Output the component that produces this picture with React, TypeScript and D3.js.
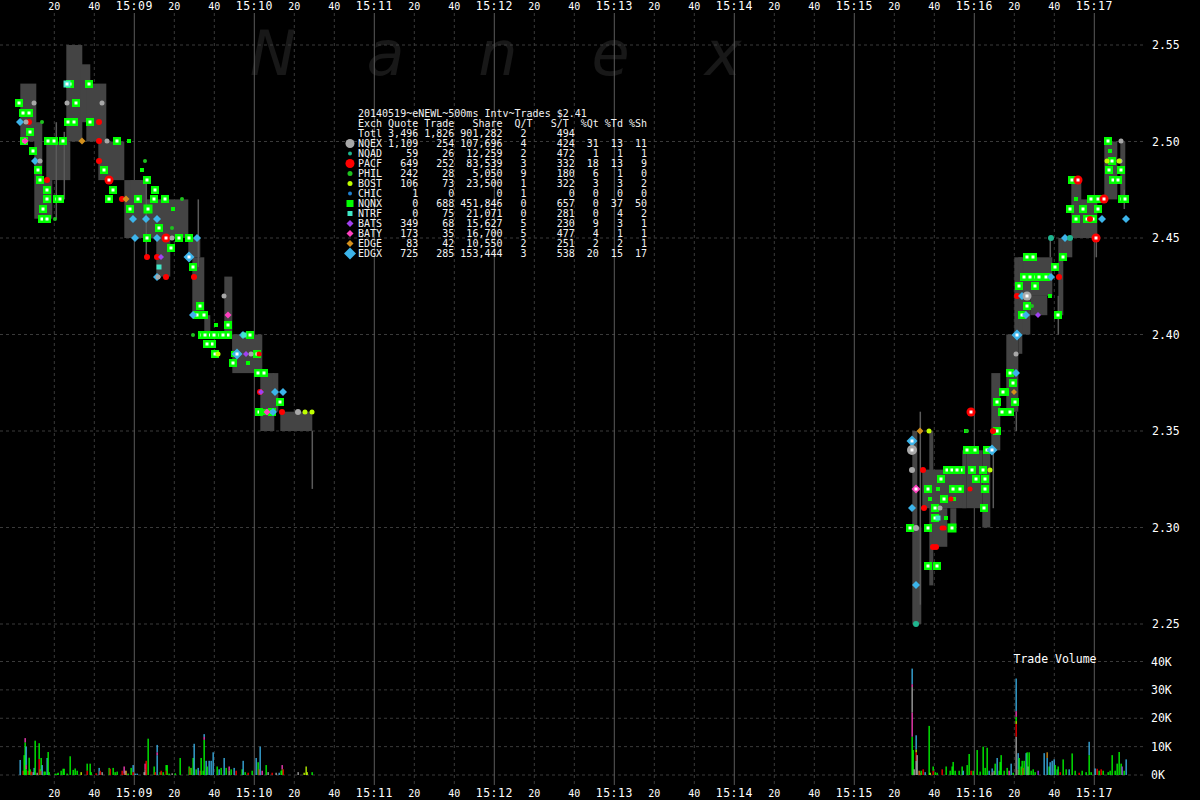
import React from 'react';
import * as d3 from 'd3';

// times are seconds after 15:08:00, prices in dollars
const BASE = new Date(2014, 4, 19, 15, 8, 0);

// NBBO spread columns: [tStart, tEnd, low, high]
const spreads: [number, number, number, number][] = [
  [3, 11, 2.5, 2.53], [10, 14, 2.46, 2.51], [13, 19, 2.46, 2.48], [16, 28, 2.48, 2.5],
  [26, 34, 2.5, 2.55], [33, 38, 2.51, 2.54], [36, 46, 2.5, 2.53], [42, 55, 2.48, 2.5],
  [55, 64, 2.45, 2.48], [58, 66, 2.45, 2.48], [64, 87, 2.45, 2.47], [71, 78, 2.43, 2.45],
  [87, 93, 2.44, 2.45], [89, 95, 2.41, 2.44], [95, 98, 2.4, 2.41], [105, 109, 2.4, 2.43],
  [109, 113, 2.39, 2.4], [109, 124, 2.38, 2.4], [123, 130, 2.35, 2.38], [129, 132, 2.36, 2.38],
  [133, 149, 2.35, 2.36],
  [449, 451.5, 2.25, 2.35], [451, 453.5, 2.25, 2.3], [457.5, 459.5, 2.27, 2.35], [454, 476, 2.31, 2.33],
  [459, 466.5, 2.29, 2.31], [468, 471, 2.3, 2.31], [474, 476, 2.31, 2.34], [476, 484, 2.31, 2.34],
  [484, 488, 2.3, 2.34], [488.5, 493, 2.34, 2.38], [496, 502, 2.36, 2.4], [500, 508, 2.4, 2.44],
  [502, 504, 2.39, 2.44], [504.5, 519, 2.42, 2.44], [508, 516.5, 2.41, 2.42], [522, 524.5, 2.41, 2.45],
  [524, 529, 2.44, 2.45], [528.5, 533.5, 2.45, 2.48], [533, 541.5, 2.45, 2.47], [545, 551.5, 2.47, 2.5],
  [553, 555.5, 2.47, 2.5],
];

// thin quote wicks: [t, low, high]
const wicks: [number, number, number][] = [
  [21, 2.46, 2.51], [25, 2.47, 2.505], [66, 2.44, 2.48], [92, 2.435, 2.47], [149, 2.32, 2.35],
  [453, 2.26, 2.36], [489.5, 2.31, 2.34], [501, 2.35, 2.36], [522, 2.4, 2.42], [518, 2.44, 2.45],
  [541, 2.44, 2.45], [555, 2.465, 2.475],
];

// trades: [t, price, exchange, shares]
const trades: [number, number, string, number][] = [
  // NQNX
  [2.4, 2.52, 'NQNX', 800], [7.4, 2.515, 'NQNX', 800], [7.9, 2.505, 'NQNX', 800], [4.9, 2.5, 'NQNX', 800],
  [9.4, 2.495, 'NQNX', 800], [11.9, 2.485, 'NQNX', 800], [12.9, 2.48, 'NQNX', 800], [16.4, 2.475, 'NQNX', 800],
  [16.4, 2.47, 'NQNX', 800], [21.4, 2.47, 'NQNX', 800], [22.9, 2.47, 'NQNX', 800], [14.4, 2.465, 'NQNX', 800],
  [13.9, 2.46, 'NQNX', 800], [16.4, 2.46, 'NQNX', 800], [16.9, 2.5, 'NQNX', 800], [24.4, 2.5, 'NQNX', 800],
  [29.9, 2.51, 'NQNX', 800], [37.9, 2.51, 'NQNX', 800], [30.9, 2.52, 'NQNX', 800], [51.4, 2.5, 'NQNX', 800],
  [49.4, 2.475, 'NQNX', 800], [47.4, 2.47, 'NQNX', 800], [57.9, 2.465, 'NQNX', 800], [66.4, 2.48, 'NQNX', 800],
  [70.4, 2.475, 'NQNX', 800], [69.9, 2.47, 'NQNX', 800], [75.4, 2.47, 'NQNX', 800], [66.9, 2.465, 'NQNX', 1000],
  [72.4, 2.455, 'NQNX', 800], [66.4, 2.45, 'NQNX', 800], [82.4, 2.45, 'NQNX', 800], [87.4, 2.45, 'NQNX', 800],
  [89.4, 2.435, 'NQNX', 800], [92.9, 2.415, 'NQNX', 800], [94.9, 2.41, 'NQNX', 800], [91.4, 2.41, 'NQNX', 800],
  [106.9, 2.405, 'NQNX', 800], [93.9, 2.4, 'NQNX', 800], [97.4, 2.4, 'NQNX', 800], [102.9, 2.4, 'NQNX', 800],
  [106.9, 2.4, 'NQNX', 800], [98.9, 2.395, 'NQNX', 800], [117.9, 2.4, 'NQNX', 800], [100.4, 2.39, 'NQNX', 800],
  [121.4, 2.39, 'NQNX', 800], [121.9, 2.38, 'NQNX', 800], [124.9, 2.38, 'NQNX', 800], [132.9, 2.365, 'NQNX', 800],
  [122.4, 2.36, 'NQNX', 800], [37.4, 2.53, 'NQNX', 800], [27.9, 2.53, 'NQNX', 800], [4.4, 2.515, 'NQNX', 800],
  [95.4, 2.4, 'NQNX', 800], [99.9, 2.4, 'NQNX', 800], [104.4, 2.4, 'NQNX', 800], [110, 2.39, 'NQNX', 300],
  [57.4, 2.5, 'NQNX', 100], [63.9, 2.485, 'NQNX', 100], [79.4, 2.465, 'NQNX', 100], [101, 2.405, 'NQNX', 100],
  [117, 2.385, 'NQNX', 100], [124, 2.36, 'NQNX', 300], [126, 2.36, 'NQNX', 300],
  [19.9, 2.5, 'NQNX', 800], [26.9, 2.51, 'NQNX', 800], [44.9, 2.485, 'NQNX', 800], [61.9, 2.47, 'NQNX', 800],
  [78.4, 2.445, 'NQNX', 800], [96.4, 2.395, 'NQNX', 800], [109.4, 2.385, 'NQNX', 800], [128.9, 2.36, 'NQNX', 800],
  [456.9, 2.32, 'NQNX', 800], [460.4, 2.31, 'NQNX', 800], [460.4, 2.305, 'NQNX', 800], [456.9, 2.3, 'NQNX', 800],
  [456.9, 2.28, 'NQNX', 800], [461.4, 2.28, 'NQNX', 800], [468.9, 2.3, 'NQNX', 1000], [464.9, 2.315, 'NQNX', 800],
  [466.4, 2.33, 'NQNX', 800], [468.9, 2.33, 'NQNX', 800], [473.4, 2.33, 'NQNX', 800], [469.4, 2.32, 'NQNX', 800],
  [472.9, 2.32, 'NQNX', 800], [476.4, 2.34, 'NQNX', 800], [480.4, 2.34, 'NQNX', 800], [486.4, 2.34, 'NQNX', 800],
  [484.4, 2.33, 'NQNX', 800], [480.9, 2.325, 'NQNX', 800], [485.4, 2.325, 'NQNX', 800], [485.4, 2.32, 'NQNX', 800],
  [484.9, 2.31, 'NQNX', 800], [491.4, 2.35, 'NQNX', 800], [491.4, 2.365, 'NQNX', 800], [497.9, 2.36, 'NQNX', 800],
  [500.4, 2.365, 'NQNX', 800], [495.4, 2.37, 'NQNX', 800], [499.4, 2.375, 'NQNX', 800], [447.9, 2.3, 'NQNX', 800],
  [546.9, 2.5, 'NQNX', 800], [548.9, 2.49, 'NQNX', 800], [547.4, 2.485, 'NQNX', 800], [553.4, 2.485, 'NQNX', 800],
  [549.4, 2.48, 'NQNX', 800], [553.9, 2.47, 'NQNX', 800], [555.4, 2.47, 'NQNX', 800], [528.9, 2.48, 'NQNX', 800],
  [527.9, 2.465, 'NQNX', 800], [534.4, 2.465, 'NQNX', 800], [541.9, 2.465, 'NQNX', 800], [541.9, 2.47, 'NQNX', 800],
  [536.4, 2.46, 'NQNX', 800], [539.4, 2.46, 'NQNX', 800], [524.4, 2.44, 'NQNX', 800], [520.4, 2.435, 'NQNX', 800],
  [509.4, 2.44, 'NQNX', 800], [506.4, 2.44, 'NQNX', 800], [502.4, 2.425, 'NQNX', 800], [510.4, 2.425, 'NQNX', 800],
  [506.4, 2.415, 'NQNX', 800], [503.9, 2.41, 'NQNX', 800], [521.9, 2.41, 'NQNX', 800], [513.9, 2.43, 'NQNX', 800],
  [497.9, 2.38, 'NQNX', 800], [494.4, 2.37, 'NQNX', 800], [505, 2.43, 'NQNX', 800], [508, 2.43, 'NQNX', 800],
  [511, 2.43, 'NQNX', 800], [516, 2.43, 'NQNX', 800], [462, 2.32, 'NQNX', 100], [466, 2.305, 'NQNX', 100],
  [470, 2.315, 'NQNX', 100], [458, 2.315, 'NQNX', 100], [476, 2.35, 'NQNX', 100], [518, 2.42, 'NQNX', 100],
  [531, 2.47, 'NQNX', 100], [548, 2.495, 'NQNX', 100],
  [463.4, 2.325, 'NQNX', 800], [471.4, 2.33, 'NQNX', 800], [478.9, 2.33, 'NQNX', 800], [493.9, 2.36, 'NQNX', 800],
  [512.4, 2.43, 'NQNX', 800], [530.9, 2.46, 'NQNX', 800], [538.4, 2.47, 'NQNX', 800], [551.9, 2.48, 'NQNX', 800],
  // PACF
  [7.4, 2.51, 'PACF', 300], [16.4, 2.48, 'PACF', 300], [42.4, 2.51, 'PACF', 300], [42.4, 2.5, 'PACF', 300],
  [42.4, 2.49, 'PACF', 300], [47.4, 2.48, 'PACF', 800], [53.9, 2.47, 'PACF', 300], [75.9, 2.45, 'PACF', 800],
  [66.4, 2.44, 'PACF', 300], [71.4, 2.44, 'PACF', 300], [75.9, 2.43, 'PACF', 300], [89.9, 2.43, 'PACF', 300],
  [122.9, 2.37, 'PACF', 300], [133.9, 2.36, 'PACF', 300], [122.4, 2.39, 'PACF', 100],
  [454.4, 2.33, 'PACF', 300], [454.9, 2.31, 'PACF', 300], [459.4, 2.29, 'PACF', 300], [478.4, 2.36, 'PACF', 800],
  [489.4, 2.35, 'PACF', 300], [531.9, 2.48, 'PACF', 800], [544.9, 2.47, 'PACF', 800], [540.9, 2.45, 'PACF', 800],
  [522.4, 2.43, 'PACF', 300], [501.4, 2.42, 'PACF', 300], [537.9, 2.46, 'PACF', 300], [463.9, 2.3, 'PACF', 100],
  [468.4, 2.315, 'PACF', 100], [477.9, 2.32, 'PACF', 100], [461, 2.29, 'PACF', 300], [465, 2.3, 'PACF', 100],
  // EDGX
  [2.9, 2.51, 'EDGX', 300], [10.4, 2.49, 'EDGX', 300], [59.4, 2.46, 'EDGX', 300], [65.9, 2.46, 'EDGX', 300],
  [71.4, 2.46, 'EDGX', 300], [71.4, 2.45, 'EDGX', 300], [60.4, 2.45, 'EDGX', 300], [91.4, 2.45, 'EDGX', 300],
  [87.4, 2.44, 'EDGX', 800], [71.4, 2.43, 'EDGX', 300], [89.4, 2.41, 'EDGX', 300], [111.4, 2.39, 'EDGX', 800],
  [114.4, 2.4, 'EDGX', 300], [130.4, 2.37, 'EDGX', 300], [134.4, 2.37, 'EDGX', 300], [129.4, 2.36, 'EDGX', 300],
  [448.9, 2.345, 'EDGX', 800], [448.9, 2.31, 'EDGX', 300], [450.9, 2.27, 'EDGX', 300], [543.9, 2.46, 'EDGX', 300],
  [555.9, 2.46, 'EDGX', 300], [518.4, 2.43, 'EDGX', 300], [503.9, 2.42, 'EDGX', 300], [505.9, 2.41, 'EDGX', 300],
  [501.4, 2.4, 'EDGX', 800], [525.4, 2.45, 'EDGX', 300], [500.9, 2.38, 'EDGX', 300], [488.9, 2.34, 'EDGX', 800],
  // others
  [33.9, 2.5, 'EDGE', 300], [55.9, 2.47, 'EDGE', 300], [452.9, 2.35, 'EDGE', 300], [499.9, 2.37, 'EDGE', 100],
  [5.9, 2.51, 'NQEX', 100], [12.9, 2.49, 'NQEX', 100], [118.4, 2.39, 'NQEX', 100], [141.9, 2.36, 'NQEX', 300],
  [71.9, 2.43, 'NQEX', 100], [9.9, 2.52, 'NQEX', 100], [26.4, 2.52, 'NQEX', 100], [43.9, 2.52, 'NQEX', 100],
  [46.4, 2.5, 'NQEX', 100], [104.9, 2.42, 'NQEX', 100], [78.9, 2.45, 'NQEX', 100],
  [448.9, 2.34, 'NQEX', 1200], [448.9, 2.33, 'NQEX', 300], [450.9, 2.3, 'NQEX', 300], [553.4, 2.5, 'NQEX', 100],
  [552.9, 2.49, 'NQEX', 100], [500.9, 2.39, 'NQEX', 100], [506.4, 2.42, 'NQEX', 800], [463, 2.31, 'NQEX', 100],
  [101.9, 2.39, 'BOST', 300], [145.4, 2.36, 'BOST', 300], [148.9, 2.36, 'BOST', 300], [457.4, 2.35, 'BOST', 300],
  [546.4, 2.49, 'BOST', 300], [552.4, 2.49, 'BOST', 300], [487.9, 2.33, 'BOST', 300],
  [73.4, 2.44, 'BATS', 300], [115.9, 2.39, 'BATS', 300], [123.4, 2.37, 'BATS', 300], [511.9, 2.41, 'BATS', 300],
  [106.9, 2.41, 'BATY', 300], [126.4, 2.36, 'BATY', 300], [5.4, 2.5, 'BATY', 300], [450.9, 2.32, 'BATY', 800],
  [72.4, 2.435, 'NTRF', 300], [114.9, 2.4, 'NTRF', 300], [26.4, 2.53, 'NTRF', 800], [462, 2.305, 'NTRF', 300],
  [65.4, 2.49, 'PHIL', 300], [83.9, 2.47, 'PHIL', 300], [89.4, 2.4, 'PHIL', 300], [78.9, 2.455, 'PHIL', 300],
  [20.4, 2.46, 'PHIL', 300], [13.9, 2.51, 'PHIL', 300], [476.4, 2.35, 'PHIL', 300], [509, 2.415, 'PHIL', 300],
  [450.9, 2.25, 'NQAD', 300], [518.4, 2.45, 'NQAD', 300], [527.9, 2.45, 'NQAD', 300],
];

// trade volume per 500ms: [t, shares, exchange], stacked in order
const volumes: [number, number, string][] = [
  [2.9, 5300, 'EDGX'], [4.4, 1500, 'PACF'], [4.9, 7000, 'NQNX'], [5.4, 11500, 'NQNX'], [5.4, 1500, 'BATY'],
  [5.9, 2000, 'NQNX'], [5.9, 1500, 'BATY'], [5.9, 6500, 'EDGX'], [6.9, 1500, 'PACF'], [7.4, 6100, 'NQNX'],
  [7.9, 2000, 'NQNX'], [8.4, 1200, 'PACF'], [9.4, 1000, 'NQEX'], [9.9, 2500, 'EDGX'], [10.4, 12100, 'NQNX'],
  [11.4, 800, 'NQEX'], [12.4, 5600, 'PACF'], [12.4, 5600, 'NQNX'], [12.9, 2000, 'NQNX'], [13.4, 1500, 'PACF'],
  [13.4, 4500, 'NQNX'], [13.9, 3500, 'EDGX'], [14.9, 1200, 'NQNX'], [15.4, 1200, 'NQNX'], [16.4, 6000, 'EDGX'],
  [16.9, 8100, 'NQNX'], [17.4, 1000, 'NQNX'], [20.4, 500, 'NQNX'], [21.4, 500, 'NQNX'], [21.9, 800, 'NQNX'],
  [23.4, 1500, 'NQNX'], [24.4, 2200, 'NQNX'], [24.9, 2200, 'NQNX'], [26.4, 500, 'NQNX'], [27.9, 6600, 'NQNX'],
  [29.4, 1800, 'NQNX'], [30.4, 2300, 'NQNX'], [31.4, 1500, 'NQNX'], [33.4, 1000, 'BOST'], [36.4, 1500, 'PACF'],
  [36.4, 2500, 'NQNX'], [37.9, 4000, 'NQNX'], [38.4, 1000, 'NQNX'], [40.9, 600, 'PACF'], [42.4, 2500, 'EDGX'],
  [42.9, 1500, 'PACF'], [43.9, 1000, 'NQEX'], [47.4, 2500, 'NQNX'], [47.9, 2200, 'PACF'], [49.4, 2500, 'NQNX'],
  [50.4, 1000, 'NQNX'], [51.4, 1200, 'NQNX'], [53.9, 1500, 'PACF'], [54.9, 500, 'PACF'], [54.9, 2500, 'BATY'],
  [55.4, 1500, 'NQEX'], [55.9, 1500, 'EDGE'], [56.9, 500, 'NQNX'], [58.4, 2500, 'NQNX'], [59.4, 1000, 'PACF'],
  [59.4, 2500, 'EDGX'], [60.4, 500, 'EDGX'], [61.4, 500, 'EDGX'], [64.9, 1000, 'NQEX'], [65.4, 2000, 'NQEX'],
  [65.4, 2000, 'BATY'], [65.9, 5000, 'PACF'], [66.9, 12800, 'NQNX'], [69.9, 3000, 'NQNX'], [70.4, 1000, 'PACF'],
  [71.4, 7000, 'EDGX'], [71.4, 1000, 'BATY'], [71.4, 2600, 'EDGX'], [72.9, 1000, 'NQNX'], [73.4, 1500, 'PACF'],
  [74.4, 1000, 'NQNX'], [75.9, 1500, 'PACF'], [75.9, 2000, 'NQNX'], [76.4, 3500, 'NQNX'], [77.4, 500, 'NQNX'],
  [78.9, 600, 'NQEX'], [80.4, 600, 'NQNX'], [82.9, 6000, 'NQNX'], [87.4, 3000, 'NQNX'], [87.9, 2500, 'PACF'],
  [88.4, 2500, 'NQNX'], [89.4, 6000, 'NQNX'], [89.9, 11000, 'EDGX'], [90.9, 2000, 'NQNX'], [91.9, 2500, 'EDGX'],
  [92.9, 1500, 'PACF'], [93.4, 6000, 'NQNX'], [94.4, 1500, 'NQNX'], [94.9, 12400, 'NQNX'], [94.9, 1000, 'BATY'],
  [94.9, 1000, 'EDGX'], [95.9, 5000, 'EDGX'], [96.4, 3000, 'NQNX'], [97.4, 5000, 'EDGX'], [98.4, 5000, 'EDGX'],
  [99.4, 8000, 'EDGX'], [101.4, 3000, 'NQNX'], [102.4, 2000, 'EDGX'], [103.4, 2500, 'NQNX'], [104.9, 6000, 'EDGX'],
  [105.9, 2500, 'NQNX'], [107.4, 1500, 'NQEX'], [107.4, 1500, 'BATY'], [108.4, 2000, 'NQNX'], [109.9, 2500, 'EDGX'],
  [110.9, 1500, 'PACF'], [113.9, 2000, 'NQNX'], [114.4, 5000, 'EDGX'], [115.4, 1000, 'NQNX'], [116.9, 800, 'PACF'],
  [118.9, 1500, 'NQNX'], [120.9, 6000, 'EDGX'], [121.9, 4500, 'NQNX'], [122.4, 2000, 'PACF'], [122.9, 10000, 'EDGX'],
  [123.9, 1500, 'BATY'], [125.9, 3500, 'NQNX'], [126.9, 1000, 'NQEX'], [128.9, 800, 'PACF'], [130.9, 800, 'NQEX'],
  [132.4, 800, 'EDGX'], [133.4, 1500, 'NQNX'], [133.9, 2000, 'NQNX'], [133.9, 1500, 'BATY'], [134.4, 2000, 'PACF'],
  [141.9, 1000, 'NQEX'], [144.9, 800, 'BOST'], [145.9, 3000, 'BOST'], [146.4, 1000, 'BOST'], [148.9, 1000, 'NQNX'],
  [448.9, 13500, 'NQNX'], [448.9, 8500, 'BATY'], [448.9, 9000, 'NQEX'], [448.9, 1000, 'BATY'], [448.9, 5500, 'EDGX'],
  [449.4, 8800, 'NQNX'], [449.9, 2000, 'NQEX'], [450.9, 5000, 'NQEX'], [450.9, 3000, 'PACF'], [450.9, 1000, 'BOST'],
  [450.9, 5000, 'EDGX'], [451.4, 7000, 'NQEX'], [452.4, 1500, 'EDGE'], [452.9, 800, 'PACF'], [453.4, 1500, 'NQNX'],
  [454.4, 2000, 'PACF'], [455.4, 1000, 'EDGX'], [457.4, 17300, 'NQNX'], [457.9, 800, 'BOST'], [459.4, 1500, 'PACF'],
  [459.4, 1500, 'NQNX'], [460.4, 1000, 'NQNX'], [461.4, 800, 'NQNX'], [463.9, 2000, 'PACF'], [465.9, 3000, 'NQNX'],
  [467.9, 1500, 'NQNX'], [468.9, 3000, 'NQNX'], [469.4, 4600, 'NQNX'], [470.4, 1500, 'NQNX'], [472.4, 1500, 'NQNX'],
  [473.9, 3000, 'NQNX'], [474.4, 1500, 'EDGX'], [476.4, 3500, 'NQNX'], [477.4, 7400, 'NQNX'], [478.4, 1500, 'PACF'],
  [479.4, 1500, 'NQNX'], [481.4, 8800, 'NQNX'], [482.9, 1200, 'NQNX'], [484.4, 10000, 'NQNX'], [485.4, 2500, 'NQNX'],
  [486.4, 9600, 'NQNX'], [487.4, 1500, 'EDGX'], [488.9, 1000, 'NQEX'], [488.9, 1300, 'EDGX'], [489.9, 1500, 'NQEX'],
  [490.4, 4000, 'NQNX'], [491.4, 6000, 'EDGX'], [492.4, 1500, 'NQNX'], [492.9, 4600, 'NQNX'], [493.4, 7000, 'NQNX'],
  [494.9, 1500, 'NQNX'], [496.4, 2500, 'NQNX'], [497.4, 1500, 'BATY'], [498.4, 4000, 'EDGX'], [499.4, 800, 'NQNX'],
  [500.9, 13500, 'NQEX'], [500.9, 4500, 'PACF'], [500.9, 1000, 'BOST'], [500.9, 1500, 'NQNX'], [500.9, 2000, 'BATY'],
  [500.9, 11500, 'EDGX'], [501.9, 2000, 'NQEX'], [501.9, 5700, 'EDGX'], [502.4, 6000, 'NQNX'], [503.4, 3000, 'NQNX'],
  [503.9, 5000, 'NQNX'], [504.4, 2500, 'PACF'], [504.9, 5000, 'NQNX'], [505.9, 7700, 'EDGX'], [506.4, 8000, 'NQNX'],
  [506.9, 3000, 'NQEX'], [507.4, 8000, 'NQNX'], [508.4, 1500, 'NQNX'], [509.4, 2000, 'NQNX'], [510.4, 1000, 'NQNX'],
  [511.9, 1500, 'BATS'], [514.9, 7700, 'EDGX'], [516.4, 6000, 'EDGX'], [516.4, 2000, 'EDGE'], [517.4, 3000, 'NQNX'],
  [517.9, 4500, 'EDGX'], [518.9, 5000, 'EDGX'], [519.9, 5500, 'EDGX'], [520.4, 3500, 'NQNX'], [521.4, 2000, 'NQAD'],
  [521.9, 3000, 'NQNX'], [522.9, 1000, 'PACF'], [524.4, 5500, 'NQNX'], [525.9, 2000, 'NQNX'], [527.4, 2000, 'EDGX'],
  [528.9, 7600, 'NQNX'], [530.4, 1500, 'NQNX'], [532.4, 800, 'PACF'], [533.9, 1500, 'NQNX'], [535.9, 1000, 'NQNX'],
  [537.4, 7000, 'NQNX'], [537.4, 4700, 'EDGX'], [538.4, 1000, 'NQNX'], [540.4, 2300, 'EDGX'], [541.4, 2200, 'PACF'],
  [542.4, 1500, 'NQNX'], [543.4, 2000, 'PACF'], [544.4, 1500, 'NQNX'], [546.9, 1000, 'NQNX'], [547.9, 1500, 'NQNX'],
  [548.9, 7000, 'NQNX'], [550.4, 1500, 'NQNX'], [551.4, 4000, 'NQNX'], [552.4, 8100, 'NQNX'], [553.4, 4000, 'NQNX'],
  [553.9, 3000, 'BATS'], [554.9, 1500, 'NQNX'], [555.9, 5500, 'EDGX'],
];

// legend table
const titleText = '20140519~eNEWL~500ms Intv~Trades $2.41';
const exchanges = ['NQEX', 'NQAD', 'PACF', 'PHIL', 'BOST', 'CHIC', 'NQNX', 'NTRF', 'BATS', 'BATY', 'EDGE', 'EDGX'];
const quoteCounts = [1109, 59, 649, 242, 106, 1, 0, 0, 349, 173, 83, 725];
const tradeCounts = [254, 26, 252, 28, 73, 0, 688, 75, 68, 35, 42, 285];
const shareCounts = [107696, 12259, 83539, 5050, 23500, 0, 451846, 21071, 15627, 16700, 10550, 153444];
const qtRatios = [4, 2, 3, 9, 1, 1, 0, 0, 5, 5, 2, 3];
const stRatios = [424, 472, 332, 180, 322, 0, 657, 281, 230, 477, 251, 538];
const pctQuotes = [31, 1, 18, 6, 3, 0, 0, 0, 9, 4, 2, 20];
const pctTrades = [13, 1, 13, 1, 3, 0, 37, 4, 3, 1, 2, 15];
const pctShares = [11, 1, 9, 0, 2, 0, 50, 2, 1, 1, 1, 17];
const totals = { quotes: 3496, trades: 1826, shares: 901282, qt: 2, st: 494 };

const priceTicks = [2.25, 2.3, 2.35, 2.4, 2.45, 2.5, 2.55];
const volumeTicks = [0, 10000, 20000, 30000, 40000];
const watermark = ['N', 'a', 'n', 'e', 'x'];

const style: Record<string, { color: string; shape: string; size: number; legend: number }> = {
  NQEX: { color: '#a8a8a8', shape: 'circle', size: 8, legend: 9 },
  NQAD: { color: '#1fb58f', shape: 'circle', size: 7, legend: 4 },
  PACF: { color: '#ff0000', shape: 'circle', size: 8, legend: 9 },
  PHIL: { color: '#1ec21e', shape: 'circle', size: 5, legend: 5 },
  BOST: { color: '#bfff00', shape: 'circle', size: 6, legend: 5 },
  CHIC: { color: '#1f7fd0', shape: 'circle', size: 5, legend: 4 },
  NQNX: { color: '#00ff00', shape: 'square', size: 7.6, legend: 7 },
  NTRF: { color: '#40e8c8', shape: 'square', size: 6, legend: 5 },
  BATS: { color: '#a040f0', shape: 'diamond', size: 6, legend: 6 },
  BATY: { color: '#ff40c0', shape: 'diamond', size: 7, legend: 6 },
  EDGE: { color: '#d4901c', shape: 'diamond', size: 8, legend: 6 },
  EDGX: { color: '#3cb4ea', shape: 'diamond', size: 9, legend: 11 },
};

const MONO = '"DejaVu Sans Mono", "Liberation Mono", monospace';
const keepSpaces = (s: string) => s.replace(/ /g, '\u00A0');

const Marker = ({ cx, cy, exch, size, center }: { cx: number; cy: number; exch: string; size: number; center?: boolean }) => {
  const st = style[exch];
  const h = size / 2;
  let shape;
  if (st.shape === 'circle') shape = <circle cx={cx} cy={cy} r={h} fill={st.color} />;
  else if (st.shape === 'square') shape = <rect x={cx - h} y={cy - h} width={size} height={size} fill={st.color} />;
  else shape = <path d={`M${cx},${cy - h - 0.5}L${cx + h + 0.5},${cy}L${cx},${cy + h + 0.5}L${cx - h - 0.5},${cy}Z`} fill={st.color} />;
  const c = 3;
  return (
    <g>
      {shape}
      {center && <rect x={cx - c / 2} y={cy - c / 2} width={c} height={c} fill="#ffffff" />}
    </g>
  );
};

const App: React.FC = () => {
  const W = 1200;
  const H = 800;
  const plotRight = 1145;

  const x = d3.scaleLinear().domain([-7.15, 562.85]).range([0, 1140]);
  const y = d3.scaleLinear().domain([2.25, 2.55]).range([624, 45]);
  const yv = d3.scaleLinear().domain([0, 40000]).range([775, 661.5]);
  const sizeScale = d3.scaleSqrt().domain([0, 1000]).range([0.3, 1.2]);

  const timeTicks = d3.range(20, 541, 20);
  const fmtMin = d3.timeFormat('%H:%M');
  const fmtSec = d3.timeFormat('%S');
  const tickLabel = (t: number) => {
    const d = new Date(BASE.getTime() + t * 1000);
    return t % 60 === 0 ? fmtMin(d) : fmtSec(d);
  };
  const fmtComma = d3.format(',');

  const sortedTrades = [...trades].sort((a, b) => (a[2] === 'NQNX' ? 0 : 1) - (b[2] === 'NQNX' ? 0 : 1));

  const volBars: { t: number; y0: number; y1: number; exch: string }[] = [];
  d3.group(volumes, (d) => d[0]).forEach((arr, t) => {
    let acc = 0;
    arr.forEach(([, v, e]) => {
      volBars.push({ t, y0: acc, y1: acc + v, exch: e });
      acc += v;
    });
  });

  const rows = exchanges.map((e, i) =>
    e.padEnd(4) + ' ' +
    fmtComma(quoteCounts[i]).padStart(5) + ' ' +
    fmtComma(tradeCounts[i]).padStart(5) + ' ' +
    fmtComma(shareCounts[i]).padStart(7) + ' ' +
    String(qtRatios[i]).padStart(3) +
    String(stRatios[i]).padStart(8) +
    String(pctQuotes[i]).padStart(4) +
    String(pctTrades[i]).padStart(4) +
    String(pctShares[i]).padStart(4)
  );
  const totalRow = 'Totl ' + fmtComma(totals.quotes).padStart(5) + ' ' + fmtComma(totals.trades).padStart(5) + ' ' +
    fmtComma(totals.shares).padStart(7) + ' ' + String(totals.qt).padStart(3) + String(totals.st).padStart(8);
  const header = 'Exch Quote Trade   Share  Q/T   S/T  %Qt %Td %Sh';
  const tableX = 358;
  const tableY = 117;

  return (
    <svg width={W} height={H} style={{ position: 'absolute', left: 0, top: 0, background: '#000' }}>
      <rect width={W} height={H} fill="#000" />

      {/* watermark */}
      {watermark.map((ch, i) => (
        <text key={i} x={273 + i * 112.5} y={75} fontSize={62} fontStyle="italic" fill="#181818"
          fontFamily='"DejaVu Sans", sans-serif' textAnchor="middle">{ch}</text>
      ))}

      {/* grid */}
      {priceTicks.map((p) => (
        <line key={'p' + p} x1={0} x2={plotRight} y1={y(p)} y2={y(p)} stroke="#3a3a3a" strokeDasharray="3,3" />
      ))}
      {volumeTicks.map((v) => (
        <line key={'v' + v} x1={0} x2={plotRight} y1={yv(v)} y2={yv(v)} stroke="#3a3a3a" strokeDasharray="3,3" />
      ))}
      {timeTicks.map((t) => (
        <line key={'t' + t} x1={x(t)} x2={x(t)} y1={13} y2={785}
          stroke={t % 60 === 0 ? '#5a5a5a' : '#3a3a3a'} strokeDasharray={t % 60 === 0 ? undefined : '3,3'} />
      ))}

      {/* spreads */}
      {spreads.map(([t0, t1, lo, hi], i) => (
        <rect key={'s' + i} x={x(t0)} y={y(hi)} width={x(t1) - x(t0)} height={y(lo) - y(hi)} fill="#444444" />
      ))}
      {wicks.map(([t, lo, hi], i) => (
        <line key={'w' + i} x1={x(t)} x2={x(t)} y1={y(hi)} y2={y(lo)} stroke="#5a5a5a" strokeWidth={1.5} />
      ))}

      {/* trades */}
      {sortedTrades.map(([t, p, e, sh], i) => (
        <Marker key={'tr' + i} cx={Math.round(x(t))} cy={Math.round(y(p))} exch={e}
          size={Math.round(style[e].size * sizeScale(sh))} center={sh >= 500} />
      ))}

      {/* volume */}
      {volBars.map((b, i) => (
        <rect key={'vb' + i} x={x(b.t) - 0.6} y={yv(b.y1)} width={1.3} height={yv(b.y0) - yv(b.y1)} fill={style[b.exch].color} />
      ))}
      <text x={1055} y={663} fontSize={11.5} fill="#fff" fontFamily={MONO} textAnchor="middle">Trade Volume</text>

      {/* legend table */}
      <g fontFamily={MONO} fontSize={10} fill="#f2f2f2">
        <text x={tableX} y={tableY}>{keepSpaces(titleText)}</text>
        <text x={tableX} y={tableY + 10}>{keepSpaces(header)}</text>
        <text x={tableX} y={tableY + 20}>{keepSpaces(totalRow)}</text>
        {rows.map((r, i) => (
          <text key={'r' + i} x={tableX} y={tableY + 30 + i * 10}>{keepSpaces(r)}</text>
        ))}
      </g>
      {exchanges.map((e, i) => (
        <Marker key={'lm' + e} cx={350} cy={tableY + 26.5 + i * 10} exch={e} size={style[e].legend} />
      ))}

      {/* axes labels */}
      <g fontFamily={MONO} fill="#fff" textAnchor="middle">
        {timeTicks.map((t) => (
          <g key={'tl' + t}>
            <text x={x(t)} y={10} fontSize={t % 60 === 0 ? 11.5 : 10} letterSpacing={t % 60 === 0 ? 0.5 : 0}>{tickLabel(t)}</text>
            <text x={x(t)} y={797} fontSize={t % 60 === 0 ? 11.5 : 10} letterSpacing={t % 60 === 0 ? 0.5 : 0}>{tickLabel(t)}</text>
          </g>
        ))}
      </g>
      <g fontFamily={MONO} fill="#fff" fontSize={11.5}>
        {priceTicks.map((p) => (
          <text key={'pl' + p} x={1152} y={y(p) + 4}>{d3.format('.2f')(p)}</text>
        ))}
        {volumeTicks.map((v) => (
          <text key={'vl' + v} x={1151} y={yv(v) + 4}>{`${v / 1000}K`}</text>
        ))}
      </g>
    </svg>
  );
};

export default App;
